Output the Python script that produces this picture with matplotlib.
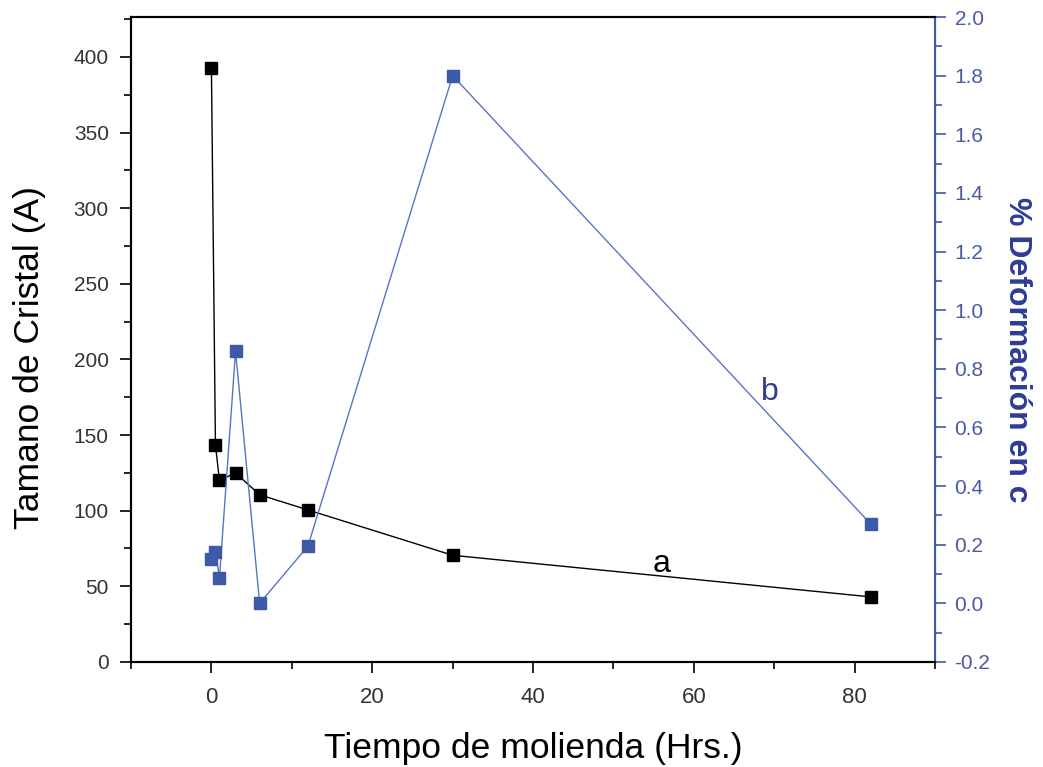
import numpy as np
import matplotlib.pyplot as plt
from matplotlib.ticker import MultipleLocator

# tiempo de molienda (hrs)
tiempo = [0, 0.5, 1, 3, 6, 12, 30, 82]
# a: tamano de cristal (A)
tamano = [393, 143.5, 120, 125, 110.5, 100.5, 70.5, 43]
# b: % deformacion en c
deformacion = [0.15, 0.175, 0.087, 0.86, 0.0, 0.195, 1.8, 0.27]

azul = '#3d5aa8'
azul_txt = '#2f3c96'

plt.rcParams['font.family'] = ['Liberation Sans', 'DejaVu Sans']

fig = plt.figure(figsize=(10.43, 7.67), dpi=100)
ax = fig.add_axes([0.1256, 0.137, 0.771, 0.8408])
ax2 = ax.twinx()

ax.plot(tiempo, tamano, color='k', linewidth=1, marker='s', markersize=9, mfc='k', mec='k')
ax2.plot(tiempo, deformacion, color='#5576c4', linewidth=1, marker='s', markersize=9, mfc=azul, mec=azul)

ax.set_xlim(-10, 90)
ax.set_ylim(0, 426.4)
ax2.set_ylim(-0.2, 2.0)

ax.xaxis.set_major_locator(MultipleLocator(20))
ax.xaxis.set_minor_locator(MultipleLocator(10))
ax.yaxis.set_major_locator(MultipleLocator(50))
ax.yaxis.set_minor_locator(MultipleLocator(25))
ax2.yaxis.set_major_locator(MultipleLocator(0.2))
ax2.yaxis.set_minor_locator(MultipleLocator(0.1))
ax2.yaxis.set_major_formatter(plt.FuncFormatter(lambda v, p: '%.1f' % v))

ax.tick_params(which='major', direction='out', length=8, width=1.2, labelsize=15, colors='k', labelcolor='#333333', pad=8)
ax.tick_params(which='minor', direction='out', length=5, width=1.2)
ax.tick_params(axis='x', labelsize=16, pad=10)
ax2.tick_params(which='major', direction='out', length=8, width=1.2, labelsize=15, colors=azul, labelcolor='#4a5aa8', pad=6)
ax2.tick_params(which='minor', direction='out', length=5, width=1.2, colors=azul)

for s in ['left', 'bottom', 'top']:
    ax.spines[s].set_linewidth(1.5)
ax2.spines['right'].set_color(azul)
ax2.spines['right'].set_linewidth(1.5)
ax2.spines['left'].set_linewidth(1.5)
ax2.spines['top'].set_linewidth(1.5)
ax2.spines['bottom'].set_linewidth(1.5)

ax.set_xlabel('Tiempo de molienda (Hrs.)', fontsize=25.5, labelpad=17)
ax.set_ylabel('Tamano de Cristal (A)', fontsize=25.5, labelpad=20)
ax.yaxis.label.set_y(0.472)
ax2.set_ylabel('% Deformación en c', fontsize=23, fontweight='bold', color=azul_txt,
               rotation=270, labelpad=30)
ax2.yaxis.label.set_y(0.484)

ax.text(56, 65, 'a', fontsize=23, ha='center', va='center')
ax2.text(69.5, 0.72, 'b', fontsize=23, ha='center', va='center', color=azul_txt)

plt.savefig('out.png', dpi=100)
